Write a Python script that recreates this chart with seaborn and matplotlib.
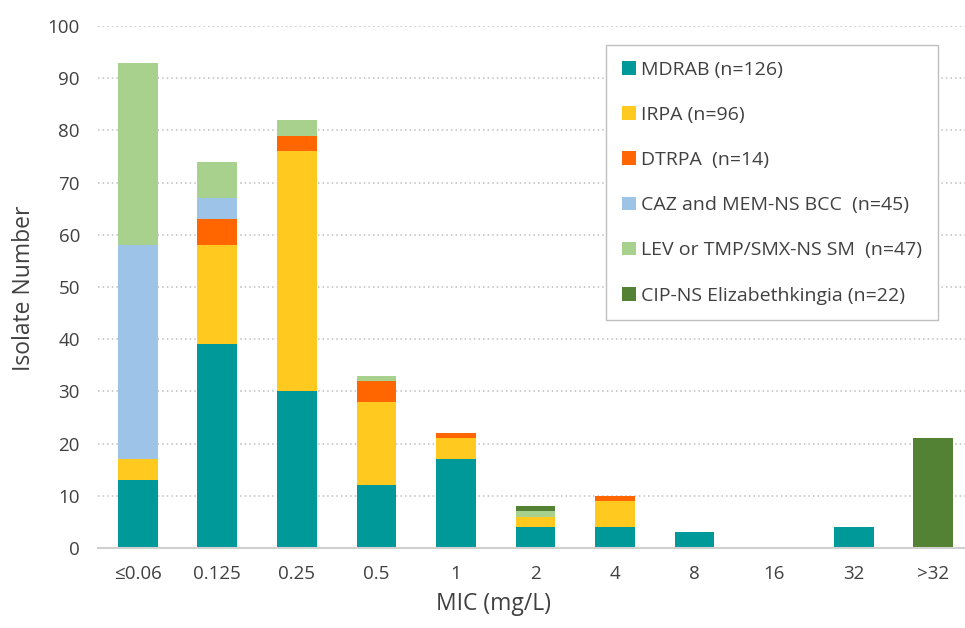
import numpy as np
import pandas as pd
import seaborn as sns
import matplotlib.pyplot as plt
from matplotlib.patches import Patch

# MIC categories and isolate counts per organism group
mic = ['≤0.06', '0.125', '0.25', '0.5', '1', '2', '4', '8', '16', '32', '>32']
mdrab = [13, 39, 30, 12, 17, 4, 4, 3, 0, 4, 0]
irpa = [4, 19, 46, 16, 4, 2, 5, 0, 0, 0, 0]
dtrpa = [0, 5, 3, 4, 1, 0, 1, 0, 0, 0, 0]
bcc = [41, 4, 0, 0, 0, 0, 0, 0, 0, 0, 0]
sm = [35, 7, 3, 1, 0, 1, 0, 0, 0, 0, 0]
eliz = [0, 0, 0, 0, 0, 1, 0, 0, 0, 0, 21]

labels = ['MDRAB (n=126)', 'IRPA (n=96)', 'DTRPA  (n=14)',
          'CAZ and MEM-NS BCC  (n=45)', 'LEV or TMP/SMX-NS SM  (n=47)',
          'CIP-NS Elizabethkingia (n=22)']
colors = ['#009999', '#FFC91F', '#FF6600', '#9DC3E6', '#A9D18E', '#548235']


def main():
	sns.set_style('white')
	plt.rcParams['font.family'] = ['Open Sans', 'DejaVu Sans']
	text_col = '#404040'

	series = [mdrab, irpa, dtrpa, bcc, sm, eliz]
	df = pd.DataFrame(dict(zip(labels, series)), index=mic)
	cum = df.cumsum(axis=1)

	fig = plt.figure(figsize=(9.65, 6.28), dpi=100)
	ax = fig.add_axes([0.1016, 0.1274, 0.8984, 0.8312])

	# draw cumulative totals from top layer down so lower layers overdraw
	for lab, col in reversed(list(zip(labels, colors))):
		sns.barplot(x=cum.index, y=cum[lab].values, order=mic, color=col,
			saturation=1, width=0.5, linewidth=0, ax=ax)

	ax.set_ylim(0, 100)
	ax.set_xlim(-0.5, 10.4)
	ax.set_yticks(np.arange(0, 101, 10))
	ax.yaxis.grid(True, linestyle=(0, (1, 2)), color='#bfbfbf', linewidth=1.1)
	ax.set_axisbelow(True)
	for s in ['top', 'right', 'left']:
		ax.spines[s].set_visible(False)
	ax.spines['bottom'].set_color('#d0d0d0')
	ax.spines['bottom'].set_linewidth(1.5)
	ax.tick_params(axis='both', length=0, labelsize=13.5, colors=text_col)
	ax.tick_params(axis='y', pad=13)
	ax.tick_params(axis='x', pad=12)

	ax.set_xlabel('MIC (mg/L)', fontsize=16.5, color=text_col, va='center')
	ax.set_ylabel('Isolate Number', fontsize=16.5, color=text_col, va='center')
	ax.xaxis.set_label_coords((493 - 98) / 867, (548 - 604) / 522)
	ax.yaxis.set_label_coords((24 - 98) / 867, 0.5 + (548 - 288 - 261) / 522)

	handles = [Patch(facecolor=c, edgecolor='none') for c in colors]
	leg = ax.legend(handles, labels, loc='upper right',
		bbox_to_anchor=(938 / 965, 1 - 45 / 628), bbox_transform=fig.transFigure,
		borderaxespad=0, fontsize=14, labelspacing=1.4, handlelength=0.7,
		handleheight=0.7, handletextpad=0.3, borderpad=0.8, fancybox=False,
		framealpha=1)
	leg.get_frame().set_edgecolor('#bfbfbf')
	leg.get_frame().set_linewidth(1.0)
	for t in leg.get_texts():
		t.set_color(text_col)

	fig.savefig('out.png', dpi=100)


if __name__ == '__main__': main()
